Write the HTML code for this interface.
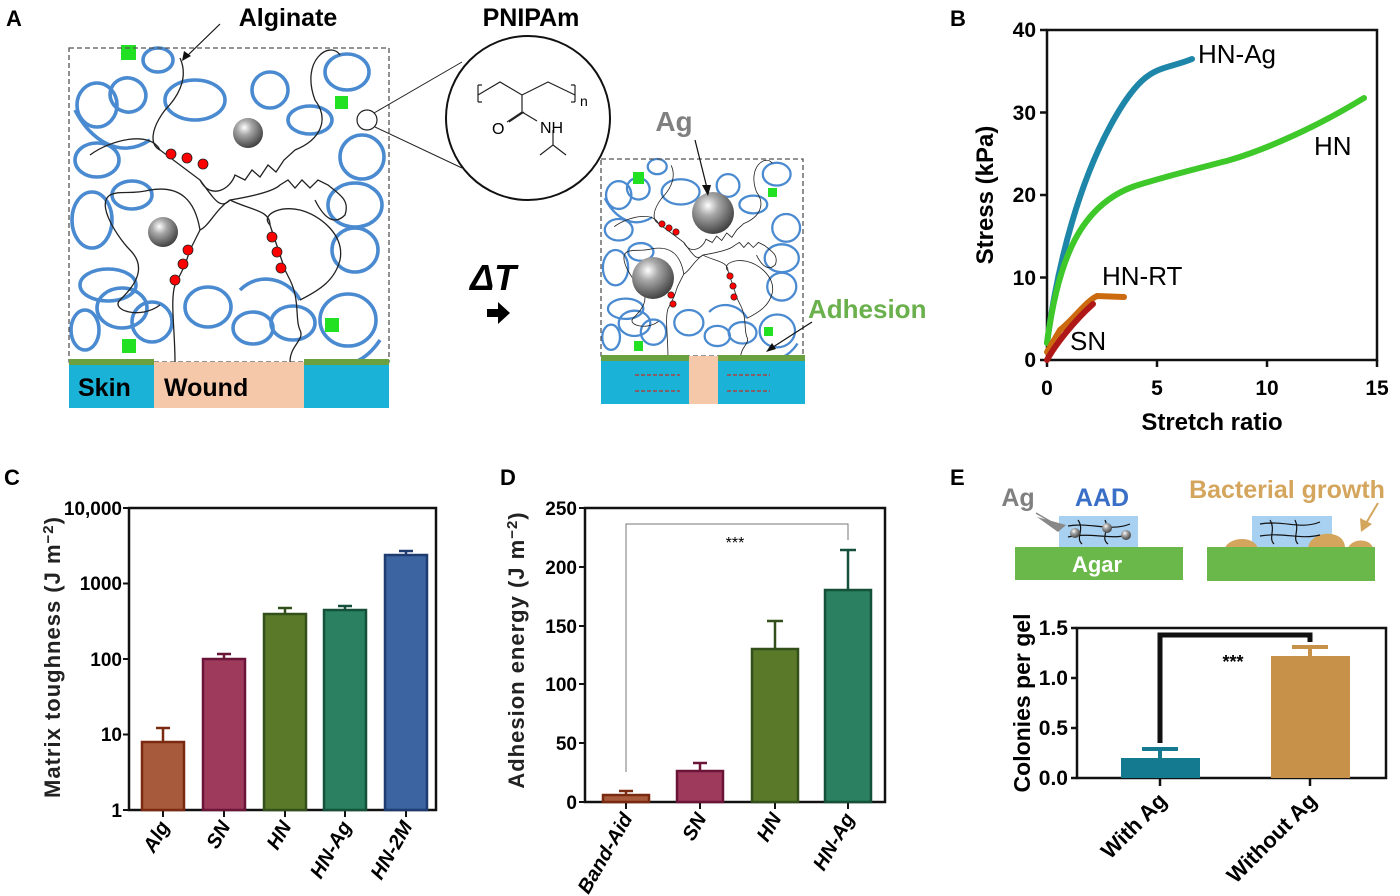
<!DOCTYPE html>
<html><head><meta charset="utf-8"><style>
html,body{margin:0;padding:0;background:#fff;}
svg{display:block;font-family:"Liberation Sans",Arial,sans-serif;}
.b{font-weight:bold;}
</style></head><body>
<svg width="1400" height="896" viewBox="0 0 1400 896" xmlns="http://www.w3.org/2000/svg">
<defs>
<radialGradient id="ball" cx="0.38" cy="0.32" r="0.7">
<stop offset="0" stop-color="#ffffff"/><stop offset="0.35" stop-color="#a8a8a8"/><stop offset="1" stop-color="#404040"/>
</radialGradient>
<g id="loops" fill="none" stroke="#4a8ad0" stroke-width="3.6">
<ellipse cx="97" cy="105" rx="20" ry="22"/>
<ellipse cx="128" cy="95" rx="18" ry="17" transform="rotate(20 128 95)"/>
<ellipse cx="195" cy="100" rx="30" ry="20"/>
<ellipse cx="270" cy="90" rx="18" ry="18"/>
<ellipse cx="347" cy="72" rx="22" ry="18"/>
<ellipse cx="362" cy="157" rx="22" ry="22"/>
<ellipse cx="97" cy="160" rx="22" ry="17"/>
<ellipse cx="92" cy="220" rx="20" ry="28"/>
<ellipse cx="108" cy="285" rx="28" ry="16"/>
<ellipse cx="122" cy="308" rx="25" ry="20"/>
<ellipse cx="152" cy="322" rx="20" ry="20"/>
<ellipse cx="208" cy="307" rx="23" ry="20"/>
<ellipse cx="253" cy="328" rx="20" ry="16"/>
<ellipse cx="293" cy="323" rx="22" ry="17"/>
<ellipse cx="355" cy="250" rx="23" ry="22"/>
<ellipse cx="355" cy="205" rx="27" ry="22"/>
<ellipse cx="348" cy="320" rx="28" ry="26"/>
<ellipse cx="132" cy="195" rx="20" ry="14"/>
<ellipse cx="158" cy="60" rx="15" ry="12"/>
<ellipse cx="310" cy="120" rx="22" ry="14"/>
<ellipse cx="85" cy="330" rx="14" ry="20"/>
<path d="M75,110 C90,140 120,160 150,140"/>
<path d="M240,290 C260,270 290,280 300,300"/>
<path d="M380,340 C370,355 360,360 355,362"/>
</g>
<g id="chains" fill="none" stroke="#222" stroke-width="1.3">
<path d="M180,58 C190,80 175,100 165,110 C150,130 150,145 160,150"/>
<path d="M90,155 C110,140 150,130 160,150 L200,180 C210,200 230,190 235,175 L245,180 L252,170 L260,177 L268,165 L276,172 L284,160 L295,150 C320,140 330,120 315,100 C300,60 330,40 340,55"/>
<path d="M200,180 C215,200 220,210 230,200 C260,195 275,190 280,185 L288,180 L295,188 L302,180 L310,188 L318,180 L328,185 C340,195 350,200 345,215 C335,225 325,220 315,200"/>
<path d="M230,200 C250,210 270,210 270,225 L275,240 L280,255 L285,270 L290,280 C300,300 295,320 300,330 C305,340 290,345 290,362"/>
<path d="M230,200 C215,210 210,225 200,230 L195,240 L190,250 L185,265 L180,275 L175,285 C170,300 175,330 175,362"/>
<path d="M200,230 C195,200 180,185 150,190 C130,195 120,190 110,195 C95,205 120,240 130,250 C150,270 130,290 120,300 C110,310 140,320 160,305"/>
<path d="M270,225 C260,215 280,205 300,210 C320,215 345,235 340,260 C335,280 320,290 300,300"/>
</g>
</defs>

<!-- Panel A -->
<text x="6" y="26" font-size="22" class="b">A</text>
<text x="288" y="26" font-size="25" class="b" text-anchor="middle">Alginate</text>
<line x1="220" y1="24" x2="185" y2="58" stroke="#111" stroke-width="1.2"/>
<polygon points="182,61 184,51 191,56" fill="#111"/>
<text x="531" y="26" font-size="25" class="b" text-anchor="middle">PNIPAm</text>

<use href="#loops"/>
<use href="#chains"/>
<g fill="red" stroke="#222" stroke-width="0.8">
<circle cx="171" cy="154" r="5"/><circle cx="187" cy="158" r="5"/><circle cx="203" cy="164" r="5"/>
<circle cx="188" cy="250" r="5"/><circle cx="183" cy="264" r="5"/><circle cx="175" cy="280" r="5"/>
<circle cx="272" cy="237" r="5"/><circle cx="277" cy="252" r="5"/><circle cx="281" cy="268" r="5"/>
</g>
<circle cx="248" cy="133" r="15" fill="url(#ball)"/>
<circle cx="163" cy="232" r="15" fill="url(#ball)"/>
<g fill="#22e022">
<rect x="121" y="45" width="15" height="15"/><rect x="335" y="96" width="13" height="13"/>
<rect x="122" y="339" width="14" height="14"/><rect x="325" y="318" width="14" height="14"/>
</g>
<rect x="69" y="48" width="320" height="314" fill="none" stroke="#555" stroke-width="1.3" stroke-dasharray="5,3"/>
<rect x="69" y="362" width="85" height="46" fill="#1ab2d6"/>
<rect x="154" y="362" width="150" height="46" fill="#f6c8aa"/>
<rect x="304" y="362" width="85" height="46" fill="#1ab2d6"/>
<rect x="69" y="359" width="85" height="6" fill="#6ba040"/>
<rect x="304" y="359" width="85" height="6" fill="#6ba040"/>
<text x="78" y="396" font-size="25" class="b">Skin</text>
<text x="164" y="396" font-size="25" class="b">Wound</text>

<!-- zoom circle -->
<circle cx="367" cy="120" r="10" fill="none" stroke="#222" stroke-width="1.2"/>
<line x1="374" y1="113" x2="462" y2="62" stroke="#222" stroke-width="1"/>
<line x1="375" y1="127" x2="462" y2="168" stroke="#222" stroke-width="1"/>
<circle cx="528" cy="118" r="82" fill="#fff" stroke="#111" stroke-width="2"/>
<g fill="none" stroke="#222" stroke-width="1.2">
<path d="M478,85 L478,102 M482,85 L478,85 M478,102 L482,102"/>
<path d="M575,85 L575,102 M571,85 L575,85 M575,102 L571,102"/>
<path d="M478,95 L500,82 L522,95 L548,82 L575,95"/>
<path d="M522,95 L522,112 L507,122 M524,112 L509,122 M522,112 L537,121"/>
<path d="M553,130 L553,145 L540,155 M553,145 L566,155"/>
</g>
<text x="580" y="106" font-size="14">n</text>
<text x="492" y="134" font-size="16">O</text>
<text x="540" y="133" font-size="16">NH</text>

<!-- Delta T -->
<text x="470" y="290" font-size="36" font-style="italic" class="b">Δ<tspan>T</tspan></text>
<polygon points="487,309 498,309 498,302 510,313 498,324 498,317 487,317" fill="#000"/>

<!-- small box -->
<g transform="translate(601,159) scale(0.632) translate(-69,-48)">
<use href="#loops"/>
<use href="#chains"/>
</g>
<g fill="red" stroke="#222" stroke-width="0.6">
<circle cx="662" cy="224" r="3.2"/><circle cx="669" cy="228" r="3.2"/><circle cx="676" cy="232" r="3.2"/>
<circle cx="668" cy="287" r="3.2"/><circle cx="671" cy="295" r="3.2"/><circle cx="673" cy="304" r="3.2"/>
<circle cx="730" cy="276" r="3.2"/><circle cx="733" cy="286" r="3.2"/><circle cx="734" cy="297" r="3.2"/>
</g>
<circle cx="713" cy="213" r="21" fill="url(#ball)"/>
<circle cx="653" cy="278" r="21" fill="url(#ball)"/>
<g fill="#22e022">
<rect x="633" y="172" width="11" height="12"/><rect x="768" y="188" width="9" height="9"/>
<rect x="634" y="341" width="9" height="10"/><rect x="764" y="327" width="9" height="9"/>
</g>
<rect x="601" y="159" width="202" height="197" fill="none" stroke="#555" stroke-width="1.3" stroke-dasharray="5,3"/>
<rect x="601" y="358" width="88" height="46" fill="#1ab2d6"/>
<rect x="689" y="356" width="29" height="48" fill="#f6c8aa"/>
<rect x="718" y="358" width="87" height="46" fill="#1ab2d6"/>
<rect x="601" y="355" width="88" height="6" fill="#6ba040"/>
<rect x="718" y="355" width="87" height="6" fill="#6ba040"/>
<g stroke="#c0302a" stroke-width="1.2" stroke-dasharray="4,2" fill="#c0302a">
<line x1="635" y1="375" x2="680" y2="375"/><line x1="635" y1="391" x2="680" y2="391"/>
<line x1="727" y1="375" x2="770" y2="375"/><line x1="727" y1="391" x2="770" y2="391"/>
</g>
<text x="674" y="131" font-size="28" class="b" fill="#808080" text-anchor="middle">Ag</text>
<line x1="695" y1="140" x2="707" y2="188" stroke="#111" stroke-width="1.2"/>
<polygon points="708,196 702,185 711,185" fill="#111"/>
<text x="808" y="318" font-size="26" class="b" fill="#6ab04c">Adhesion</text>
<line x1="812" y1="322" x2="770" y2="349" stroke="#111" stroke-width="1.2"/>
<polygon points="766,352 772,343 776,349" fill="#111"/>

<!-- Panel B -->
<text x="950" y="26" font-size="22" class="b">B</text>
<rect x="1047" y="30" width="330" height="330" fill="none" stroke="#111" stroke-width="2.5"/>
<g stroke="#111" stroke-width="2.5">
<line x1="1040" y1="30" x2="1047" y2="30"/><line x1="1040" y1="112.5" x2="1047" y2="112.5"/><line x1="1040" y1="195" x2="1047" y2="195"/><line x1="1040" y1="277.5" x2="1047" y2="277.5"/><line x1="1040" y1="360" x2="1047" y2="360"/>
<line x1="1047" y1="360" x2="1047" y2="367"/><line x1="1157" y1="360" x2="1157" y2="367"/><line x1="1267" y1="360" x2="1267" y2="367"/><line x1="1377" y1="360" x2="1377" y2="367"/>
</g>
<g font-size="21" class="b" text-anchor="end">
<text x="1036" y="37">40</text><text x="1036" y="120">30</text><text x="1036" y="202">20</text><text x="1036" y="285">10</text><text x="1036" y="367">0</text>
</g>
<g font-size="21" class="b" text-anchor="middle">
<text x="1047" y="395">0</text><text x="1157" y="395">5</text><text x="1267" y="395">10</text><text x="1377" y="395">15</text>
</g>
<text x="1212" y="430" font-size="24" class="b" text-anchor="middle">Stretch ratio</text>
<text transform="translate(993,195) rotate(-90)" font-size="24" class="b" text-anchor="middle">Stress (kPa)</text>
<g fill="none" stroke-width="6" stroke-linecap="round">
<path d="M1047,343 C1058,260 1080,180 1113,121 S1160,72 1192,59" stroke="#1e86a8"/>
<path d="M1047,343 C1058,260 1080,205 1135,186 C1170,175 1200,168 1230,160 C1270,148 1320,125 1364,98" stroke="#3ec82a"/>
<path d="M1047,352 L1060,330 C1075,318 1085,302 1097,296 L1124,297" stroke="#cc6a10"/>
<path d="M1047,360 C1055,345 1075,320 1093,304" stroke="#b01818"/>
</g>
<g font-size="26">
<text x="1198" y="63">HN-Ag</text><text x="1314" y="155">HN</text><text x="1102" y="285">HN-RT</text><text x="1070" y="350">SN</text>
</g>

<!-- Panel C -->
<text x="4" y="485" font-size="22" class="b">C</text>
<rect x="129" y="508" width="307" height="302" fill="none" stroke="#111" stroke-width="2.5"/>
<g font-size="19" class="b" text-anchor="end">
<text x="122" y="515">10,000</text><text x="122" y="590">1000</text><text x="122" y="666">100</text><text x="122" y="741">10</text><text x="122" y="817">1</text>
</g>
<g stroke="#111" stroke-width="2">
<line x1="123" y1="508" x2="129" y2="508"/><line x1="123" y1="583.5" x2="129" y2="583.5"/><line x1="123" y1="659" x2="129" y2="659"/><line x1="123" y1="734.5" x2="129" y2="734.5"/><line x1="123" y1="810" x2="129" y2="810"/>
<line x1="163" y1="810" x2="163" y2="817"/><line x1="224" y1="810" x2="224" y2="817"/><line x1="285" y1="810" x2="285" y2="817"/><line x1="345" y1="810" x2="345" y2="817"/><line x1="406" y1="810" x2="406" y2="817"/>
</g>
<g stroke-width="2.5">
<rect x="142" y="742" width="42" height="68" fill="#a85a3c" stroke="#7a2a10"/>
<rect x="203" y="659" width="42" height="151" fill="#9e3a5c" stroke="#6a1438"/>
<rect x="264" y="614" width="42" height="196" fill="#5a7a2a" stroke="#33501a"/>
<rect x="324" y="610" width="42" height="200" fill="#2a8060" stroke="#14503a"/>
<rect x="385" y="555" width="42" height="255" fill="#3c64a0" stroke="#1e3c70"/>
</g>
<g stroke-width="2.5" fill="none">
<path d="M163,742 V728 M156,728 H170" stroke="#7a2a10"/>
<path d="M224,659 V654 M217,654 H231" stroke="#6a1438"/>
<path d="M285,614 V608 M278,608 H292" stroke="#33501a"/>
<path d="M345,610 V606 M338,606 H352" stroke="#14503a"/>
<path d="M406,555 V551 M399,551 H413" stroke="#1e3c70"/>
</g>
<text transform="translate(60,657) rotate(-90)" font-size="22" class="b" text-anchor="middle" fill="#222" letter-spacing="1">Matrix toughness (J m<tspan dy="-7" font-size="15">−2</tspan><tspan dy="7">)</tspan></text>
<g font-size="20" font-style="italic" class="b" text-anchor="end">
<text transform="translate(170,826) rotate(-60)">Alg</text>
<text transform="translate(231,826) rotate(-60)">SN</text>
<text transform="translate(292,826) rotate(-60)">HN</text>
<text transform="translate(352,826) rotate(-60)">HN-Ag</text>
<text transform="translate(413,826) rotate(-60)">HN-2M</text>
</g>

<!-- Panel D -->
<text x="500" y="485" font-size="22" class="b">D</text>
<rect x="585" y="508" width="300" height="294" fill="none" stroke="#111" stroke-width="2.5"/>
<g font-size="19" class="b" text-anchor="end">
<text x="577" y="515">250</text><text x="577" y="574">200</text><text x="577" y="633">150</text><text x="577" y="691">100</text><text x="577" y="750">50</text><text x="577" y="809">0</text>
</g>
<g stroke="#111" stroke-width="2">
<line x1="579" y1="508" x2="585" y2="508"/><line x1="579" y1="567" x2="585" y2="567"/><line x1="579" y1="626" x2="585" y2="626"/><line x1="579" y1="684" x2="585" y2="684"/><line x1="579" y1="743" x2="585" y2="743"/><line x1="579" y1="802" x2="585" y2="802"/>
<line x1="626" y1="802" x2="626" y2="809"/><line x1="700" y1="802" x2="700" y2="809"/><line x1="775" y1="802" x2="775" y2="809"/><line x1="848" y1="802" x2="848" y2="809"/>
</g>
<g stroke-width="2.5">
<rect x="603" y="795" width="46" height="7" fill="#a85a3c" stroke="#7a2a10"/>
<rect x="677" y="771" width="46" height="31" fill="#9e3a5c" stroke="#6a1438"/>
<rect x="752" y="649" width="46" height="153" fill="#5a7a2a" stroke="#33501a"/>
<rect x="825" y="590" width="46" height="212" fill="#2a8060" stroke="#14503a"/>
</g>
<g stroke-width="2.5" fill="none">
<path d="M626,795 V791 M619,791 H633" stroke="#7a2a10"/>
<path d="M700,771 V763 M693,763 H707" stroke="#6a1438"/>
<path d="M775,649 V621 M767,621 H783" stroke="#33501a"/>
<path d="M848,590 V550 M840,550 H856" stroke="#14503a"/>
</g>
<path d="M626,772 V524 H848 V540" fill="none" stroke="#777" stroke-width="1"/>
<text x="735" y="548" font-size="16" text-anchor="middle">***</text>
<text transform="translate(524,650) rotate(-90)" font-size="22" class="b" text-anchor="middle" fill="#222" letter-spacing="1">Adhesion energy (J m<tspan dy="-7" font-size="15">−2</tspan><tspan dy="7">)</tspan></text>
<g font-size="20" font-style="italic" class="b" text-anchor="end">
<text transform="translate(633,818) rotate(-60)">Band-Aid</text>
<text transform="translate(707,818) rotate(-60)">SN</text>
<text transform="translate(782,818) rotate(-60)">HN</text>
<text transform="translate(855,818) rotate(-60)">HN-Ag</text>
</g>

<!-- Panel E -->
<text x="950" y="485" font-size="22" class="b">E</text>
<text x="1018" y="506" font-size="25" class="b" fill="#808080" text-anchor="middle">Ag</text>
<text x="1102" y="506" font-size="25" class="b" fill="#3a6fc8" text-anchor="middle">AAD</text>
<text x="1287" y="498" font-size="25" class="b" fill="#d4a55c" text-anchor="middle">Bacterial growth</text>
<rect x="1059" y="516" width="79" height="31" fill="#a8d0f0"/>
<rect x="1015" y="547" width="168" height="33" fill="#6ab84a"/>
<text x="1097" y="572" font-size="22" class="b" fill="#fff" text-anchor="middle">Agar</text>
<g fill="none" stroke="#111" stroke-width="1.2">
<path d="M1068,526 C1090,522 1110,532 1130,524 M1068,537 C1090,532 1110,540 1128,535 M1078,520 C1085,530 1075,538 1082,544 M1105,520 C1110,530 1100,538 1108,544"/>
</g>
<circle cx="1075" cy="533" r="5" fill="url(#ball)"/><circle cx="1107" cy="528" r="5" fill="url(#ball)"/><circle cx="1126" cy="535" r="5" fill="url(#ball)"/>
<polygon points="1037,517 1066,525 1058,532" fill="#888"/>
<line x1="1036" y1="513" x2="1060" y2="527" stroke="#888" stroke-width="1.5"/>
<rect x="1252" y="516" width="80" height="31" fill="#a8d0f0"/>
<g fill="#d4a55c">
<path d="M1225,548 C1228,538 1252,534 1258,548 Z"/>
<path d="M1308,548 C1310,530 1345,528 1345,548 Z"/>
<path d="M1348,548 C1352,538 1370,538 1373,548 Z"/>
</g>
<g fill="none" stroke="#111" stroke-width="1.2">
<path d="M1260,524 C1285,520 1300,530 1320,522 M1260,536 C1285,532 1300,540 1320,535 M1270,520 C1276,530 1268,538 1274,544 M1295,520 C1300,530 1292,538 1298,544"/>
</g>
<rect x="1207" y="547" width="168" height="34" fill="#6ab84a"/>
<line x1="1378" y1="503" x2="1365" y2="525" stroke="#d4a55c" stroke-width="2"/>
<polygon points="1361,532 1360,518 1372,524" fill="#d4a55c"/>

<rect x="1077" y="628" width="309" height="150" fill="none" stroke="#111" stroke-width="2.5"/>
<g font-size="21" class="b" text-anchor="end">
<text x="1068" y="635">1.5</text><text x="1068" y="685">1.0</text><text x="1068" y="735">0.5</text><text x="1068" y="785">0.0</text>
</g>
<g stroke="#111" stroke-width="2.5">
<line x1="1071" y1="628" x2="1077" y2="628"/><line x1="1071" y1="678" x2="1077" y2="678"/><line x1="1071" y1="728" x2="1077" y2="728"/><line x1="1071" y1="778" x2="1077" y2="778"/>
<line x1="1160" y1="778" x2="1160" y2="786"/><line x1="1310" y1="778" x2="1310" y2="786"/>
</g>
<rect x="1121" y="758" width="79" height="20" fill="#137a90"/>
<rect x="1271" y="656" width="79" height="122" fill="#c8914a"/>
<path d="M1160,758 V749 M1142,749 H1178" stroke="#137a90" stroke-width="4" fill="none"/>
<path d="M1310,656 V647 M1292,647 H1328" stroke="#c8914a" stroke-width="4" fill="none"/>
<path d="M1160,743 V635 H1310 V642" fill="none" stroke="#111" stroke-width="5"/>
<text x="1233" y="668" font-size="18" class="b" text-anchor="middle">***</text>
<text transform="translate(1030,703) rotate(-90)" font-size="23" class="b" text-anchor="middle">Colonies per gel</text>
<g font-size="22" class="b" text-anchor="end">
<text transform="translate(1168,802) rotate(-45)">With Ag</text>
<text transform="translate(1318,802) rotate(-45)">Without Ag</text>
</g>
</svg>
</body></html>
